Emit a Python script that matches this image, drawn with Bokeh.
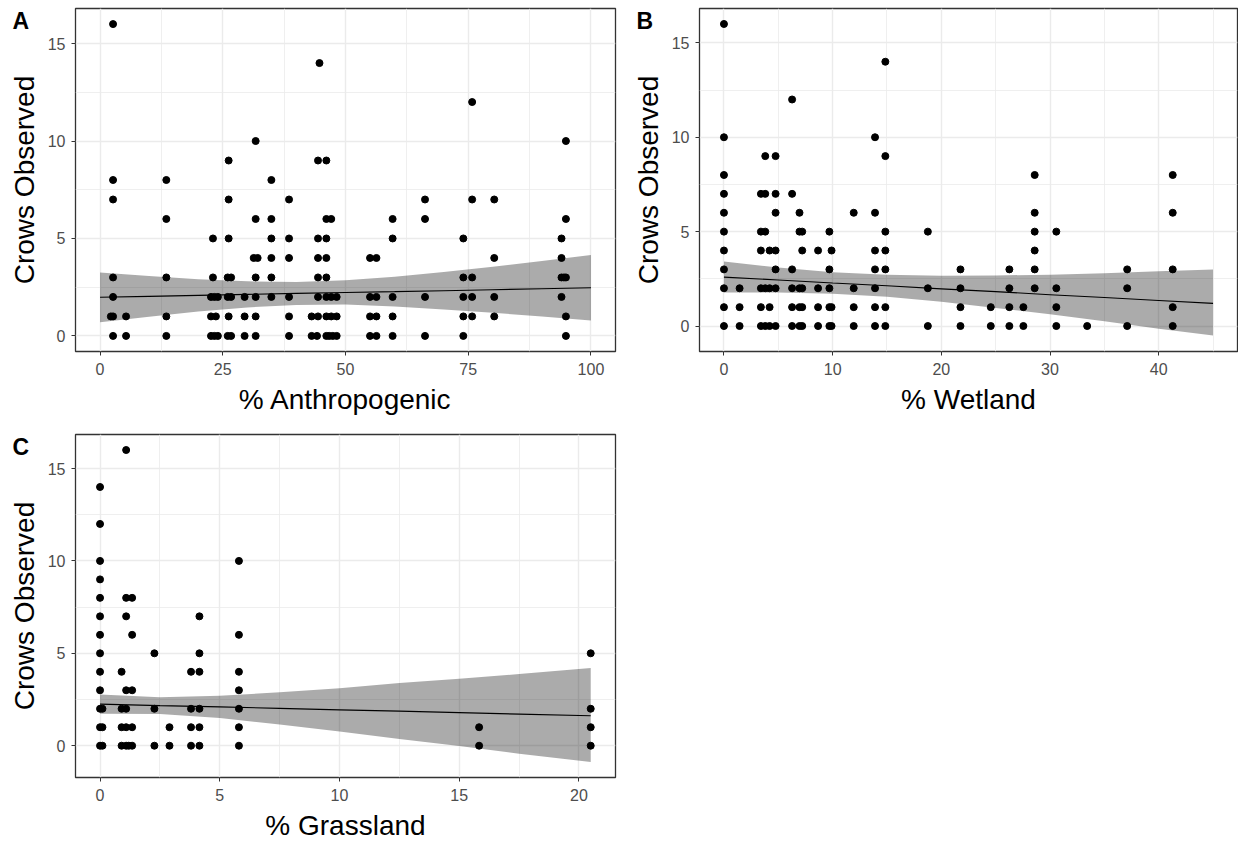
from bokeh.plotting import figure
from bokeh.models import Range1d, FixedTicker, Title
from bokeh.layouts import column, row
from bokeh.embed import file_html
from bokeh.resources import INLINE

FONT = "Liberation Sans"

# ---------------- Panel A: % Anthropogenic ----------------
a_x = [2.65, 2.65, 2.65, 2.65, 2.65, 2.65, 2.2, 2.65,
       5.3, 5.3,
       13.5, 13.5, 13.5, 13.5, 13.5,
       23.0, 23.0, 22.6, 23.3, 24.0, 22.6, 23.6, 22.6, 23.3, 24.0,
       26.2, 26.2, 26.2, 26.0, 26.7, 26.0, 26.7, 26.2, 26.0, 26.7,
       29.45, 29.45, 29.45,
       31.7, 31.7, 31.3, 32.1, 31.7, 31.7, 31.7, 31.7,
       34.9, 34.9, 34.9, 34.9, 34.9, 34.9,
       38.5, 38.5, 38.5, 38.5, 38.5, 38.5,
       43.1, 43.1,
       44.7, 44.4, 44.4, 44.4, 44.4, 44.4, 44.4, 44.2,
       46.1, 46.1, 46.1, 46.1, 46.1, 46.1, 46.1, 46.1,
       47.1, 47.1, 47.1, 46.7, 47.4,
       48.2, 48.2, 48.2,
       55.0, 55.0, 55.0, 55.0, 56.3, 56.3, 56.3, 56.3,
       59.6, 59.6, 59.6, 59.6, 59.6,
       66.2, 66.2, 66.2, 66.2,
       74.0, 74.0, 74.0, 74.0, 74.0,
       75.8, 75.8, 75.8, 75.8, 75.8,
       80.3, 80.3, 80.3, 80.3,
       94.0, 94.0, 94.0, 94.0, 94.5,
       94.9, 94.9, 94.9, 94.9, 94.9]
a_y = [16, 8, 7, 3, 2, 1, 1, 0,
       1, 0,
       8, 6, 3, 1, 0,
       5, 3, 2, 2, 2, 1, 1, 0, 0, 0,
       9, 7, 5, 3, 3, 2, 2, 1, 0, 0,
       2, 1, 0,
       10, 6, 4, 4, 3, 2, 1, 0,
       8, 6, 5, 4, 3, 2,
       7, 5, 4, 2, 1, 0,
       1, 0,
       14, 9, 5, 4, 3, 2, 1, 0,
       9, 6, 5, 4, 3, 2, 1, 0,
       6, 2, 1, 0, 0,
       2, 1, 0,
       4, 2, 1, 0, 4, 2, 1, 0,
       6, 5, 2, 1, 0,
       7, 6, 2, 0,
       5, 3, 2, 1, 0,
       12, 7, 3, 2, 1,
       7, 4, 2, 1,
       5, 4, 3, 2, 3,
       10, 6, 3, 1, 0]
a_band_x = [0, 10, 20, 30, 40, 50, 60, 70, 80, 90, 100]
a_fit = [1.98, 2.03, 2.08, 2.13, 2.18, 2.23, 2.27, 2.32, 2.37, 2.42, 2.47]
a_hi = [3.26, 3.08, 2.91, 2.80, 2.77, 2.85, 3.03, 3.28, 3.55, 3.85, 4.15]
a_lo = [0.70, 0.98, 1.25, 1.46, 1.59, 1.61, 1.51, 1.36, 1.19, 0.99, 0.79]
a_xticks = [0, 25, 50, 75, 100]
a_xminor = [12.5, 37.5, 62.5, 87.5]

# ---------------- Panel B: % Wetland ----------------
b_x = [0, 0, 0, 0, 0, 0, 0, 0, 0, 0, 0,
       1.44, 1.44, 1.44,
       3.4, 3.4, 3.4, 3.4, 3.4, 3.4,
       3.8, 3.8, 3.8, 3.8, 3.8,
       4.2, 4.2, 4.2, 4.2,
       4.75, 4.75, 4.75, 4.75, 4.75, 4.75, 4.75,
       6.27, 6.27, 6.27, 6.27, 6.27, 6.27,
       6.95, 6.95, 6.95, 6.95, 6.95,
       7.2, 7.2, 7.2, 7.2, 7.2,
       8.66, 8.66, 8.66, 8.66,
       9.7, 9.7, 9.7, 9.7, 9.7,
       9.9, 9.9, 9.9,
       11.94, 11.94, 11.94, 11.94,
       13.9, 13.9, 13.9, 13.9, 13.9, 13.9, 13.9,
       14.85, 14.85, 14.85, 14.85, 14.85, 14.85, 14.85,
       18.76, 18.76, 18.76,
       21.76, 21.76, 21.76, 21.76,
       24.55, 24.55,
       26.26, 26.26, 26.26, 26.26,
       27.55, 27.55,
       28.59, 28.59, 28.59, 28.59, 28.59, 28.59,
       30.58, 30.58, 30.58, 30.58,
       33.42,
       37.1, 37.1, 37.1,
       41.29, 41.29, 41.29, 41.29, 41.29]
b_y = [16, 10, 8, 7, 6, 5, 4, 3, 2, 1, 0,
       2, 1, 0,
       7, 5, 4, 2, 1, 0,
       9, 7, 5, 2, 0,
       4, 2, 1, 0,
       9, 7, 6, 4, 3, 2, 0,
       12, 7, 3, 2, 1, 0,
       6, 5, 2, 1, 0,
       5, 4, 2, 1, 0,
       4, 2, 1, 0,
       5, 3, 2, 1, 0,
       4, 1, 0,
       6, 2, 1, 0,
       10, 6, 4, 3, 2, 1, 0,
       14, 9, 5, 4, 3, 1, 0,
       5, 2, 0,
       3, 2, 1, 0,
       1, 0,
       3, 2, 1, 0,
       1, 0,
       8, 6, 5, 4, 3, 2,
       5, 2, 1, 0,
       0,
       3, 2, 0,
       8, 6, 3, 1, 0]
b_band_x = [0, 5, 10, 15, 20, 25, 30, 35, 40, 45]
b_fit = [2.59, 2.44, 2.28, 2.13, 1.97, 1.82, 1.66, 1.51, 1.35, 1.20]
b_hi = [3.42, 3.10, 2.85, 2.71, 2.66, 2.68, 2.72, 2.80, 2.90, 3.00]
b_lo = [1.77, 1.78, 1.71, 1.55, 1.28, 0.96, 0.62, 0.25, -0.15, -0.50]
b_xticks = [0, 10, 20, 30, 40]
b_xminor = [5, 15, 25, 35, 45]

# ---------------- Panel C: % Grassland ----------------
c_x = [0, 0, 0, 0, 0, 0, 0, 0, 0, 0, 0, 0, 0,
       0.1, 0.1, 0.1,
       0.9, 0.9, 0.9, 0.9,
       1.09, 1.09, 1.09, 1.09, 1.09, 1.09, 1.09,
       1.2,
       1.34, 1.34, 1.34, 1.34, 1.34,
       2.27, 2.27, 2.27,
       2.9, 2.9,
       3.8, 3.8, 3.8, 3.8,
       4.15, 4.15, 4.15, 4.15, 4.15, 4.15,
       5.8, 5.8, 5.8, 5.8, 5.8, 5.8, 5.8,
       15.83, 15.83,
       20.49, 20.49, 20.49, 20.49]
c_y = [14, 12, 10, 9, 8, 7, 6, 5, 4, 3, 2, 1, 0,
       2, 1, 0,
       4, 2, 1, 0,
       16, 8, 7, 3, 2, 1, 0,
       0,
       8, 6, 3, 1, 0,
       5, 2, 0,
       1, 0,
       4, 2, 1, 0,
       7, 5, 4, 2, 1, 0,
       10, 6, 4, 3, 2, 1, 0,
       1, 0,
       5, 2, 1, 0]
c_band_x = [0, 2.5, 5, 7.5, 10, 12.5, 15, 17.5, 20.49]
c_fit = [2.25, 2.17, 2.10, 2.02, 1.94, 1.87, 1.79, 1.71, 1.62]
c_hi = [2.77, 2.62, 2.70, 2.89, 3.11, 3.40, 3.62, 3.88, 4.20]
c_lo = [1.73, 1.72, 1.50, 1.15, 0.77, 0.36, -0.02, -0.43, -0.88]
c_xticks = [0, 5, 10, 15, 20]
c_xminor = [2.5, 7.5, 12.5, 17.5]

y_ticks = [0, 5, 10, 15]
y_minor = [2.5, 7.5, 12.5]
y_label = "Crows Observed"


def make_panel(letter, xlabel, xs, ys, bx, bfit, blo, bhi, xr, yr,
               xticks, xminor, frame, borders):
    fw, fh = frame
    left, right, top, bottom = borders
    p = figure(output_backend="svg", toolbar_location=None,
               x_range=Range1d(*xr), y_range=Range1d(*yr),
               frame_width=fw, frame_height=fh,
               min_border_left=left, min_border_right=right,
               min_border_top=top, min_border_bottom=bottom)
    p.background_fill_color = "white"
    p.border_fill_color = "white"
    p.outline_line_color = "#333333"
    p.outline_line_width = 1.3

    p.xaxis.ticker = FixedTicker(ticks=xticks, minor_ticks=xminor)
    p.yaxis.ticker = FixedTicker(ticks=y_ticks, minor_ticks=y_minor)
    p.xaxis.axis_label = xlabel
    p.yaxis.axis_label = y_label
    for ax in (p.xaxis[0], p.yaxis[0]):
        ax.axis_line_color = None
        ax.major_tick_line_color = "#333333"
        ax.major_tick_in = 0
        ax.major_tick_out = 4
        ax.minor_tick_line_color = None
        ax.major_label_text_font = FONT
        ax.major_label_text_font_size = "16px"
        ax.major_label_text_color = "#4D4D4D"
        ax.axis_label_text_font = FONT
        ax.axis_label_text_font_size = "28px"
        ax.axis_label_text_font_style = "normal"
        ax.axis_label_text_color = "black"
    p.xaxis.major_label_standoff = 7
    p.yaxis.major_label_standoff = 6
    p.xaxis.axis_label_standoff = 6
    p.yaxis.axis_label_standoff = 5

    for g in (p.xgrid[0], p.ygrid[0]):
        g.grid_line_color = "#EBEBEB"
        g.grid_line_width = 1.4
        g.minor_grid_line_color = "#EBEBEB"
        g.minor_grid_line_width = 0.8

    p.varea(x=bx, y1=blo, y2=bhi, fill_color="black", fill_alpha=0.33)
    p.line(bx, bfit, line_color="black", line_width=1.1)
    p.scatter(xs, ys, size=7, color="black")

    p.add_layout(Title(text=letter, align="left", offset=-63,
                       vertical_align="bottom", standoff=-50,
                       text_font=FONT, text_font_style="bold",
                       text_font_size="23px", text_color="black"), "above")
    return p


pA = make_panel("A", "% Anthropogenic", a_x, a_y, a_band_x, a_fit, a_lo, a_hi,
                (-5, 105), (-0.8, 16.8), a_xticks, a_xminor,
                (540, 343), (75, 9, 8, 76))
pB = make_panel("B", "% Wetland", b_x, b_y, b_band_x, b_fit, b_lo, b_hi,
                (-2.25, 47.25), (-1.35, 16.82), b_xticks, b_xminor,
                (538, 343), (75, 1, 8, 76))
pC = make_panel("C", "% Grassland", c_x, c_y, c_band_x, c_fit, c_lo, c_hi,
                (-1.025, 21.525), (-1.72, 16.84), c_xticks, c_xminor,
                (540, 343), (75, 9, 7, 63))

layout = column(row(pA, pB), pC)

with open("out.html", "w") as f:
    f.write(file_html(layout, INLINE))
